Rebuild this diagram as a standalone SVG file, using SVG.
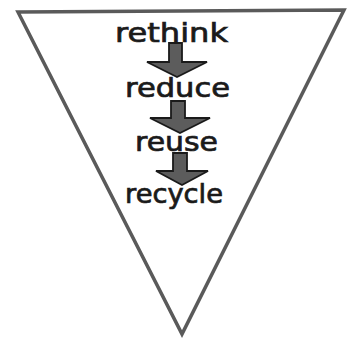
<svg xmlns="http://www.w3.org/2000/svg" width="347" height="342" viewBox="0 0 347 342">
<style>
.frame{fill:none;stroke:#5a5a5a;stroke-width:3.5;stroke-linejoin:miter}
.lbl{font-family:"DejaVu Sans","Liberation Sans",sans-serif;font-size:26px;fill:#1a1a1a;stroke:#1a1a1a;stroke-width:0.7}
.arr{fill:#5c5c5c;stroke:#1a1a1a;stroke-width:1.8;stroke-linejoin:miter}
</style>
<rect width="347" height="342" fill="#ffffff"/>
<g id="pyramid">
<polygon class="frame" points="18,12 344,10 182,334"/>
</g>
<g id="connectors">
<polygon class="arr" points="169,43 182,43 182,62 207,62 177,77 147,62 169,62"/>
<polygon class="arr" points="171,101 185,101 185,118 210,118 180,133 150,118 171,118"/>
<polygon class="arr" points="173,153 187,153 187,171 208,171 182,185 156,171 173,171"/>
</g>
<g id="rethink"><text class="lbl" x="115" y="42" textLength="113" lengthAdjust="spacingAndGlyphs">rethink</text></g>
<g id="reduce"><text class="lbl" x="125" y="97" textLength="105" lengthAdjust="spacingAndGlyphs">reduce</text></g>
<g id="reuse"><text class="lbl" x="135" y="151" textLength="83" lengthAdjust="spacingAndGlyphs">reuse</text></g>
<g id="recycle"><text class="lbl" x="125" y="203" textLength="98" lengthAdjust="spacingAndGlyphs">recycle</text></g>
</svg>
